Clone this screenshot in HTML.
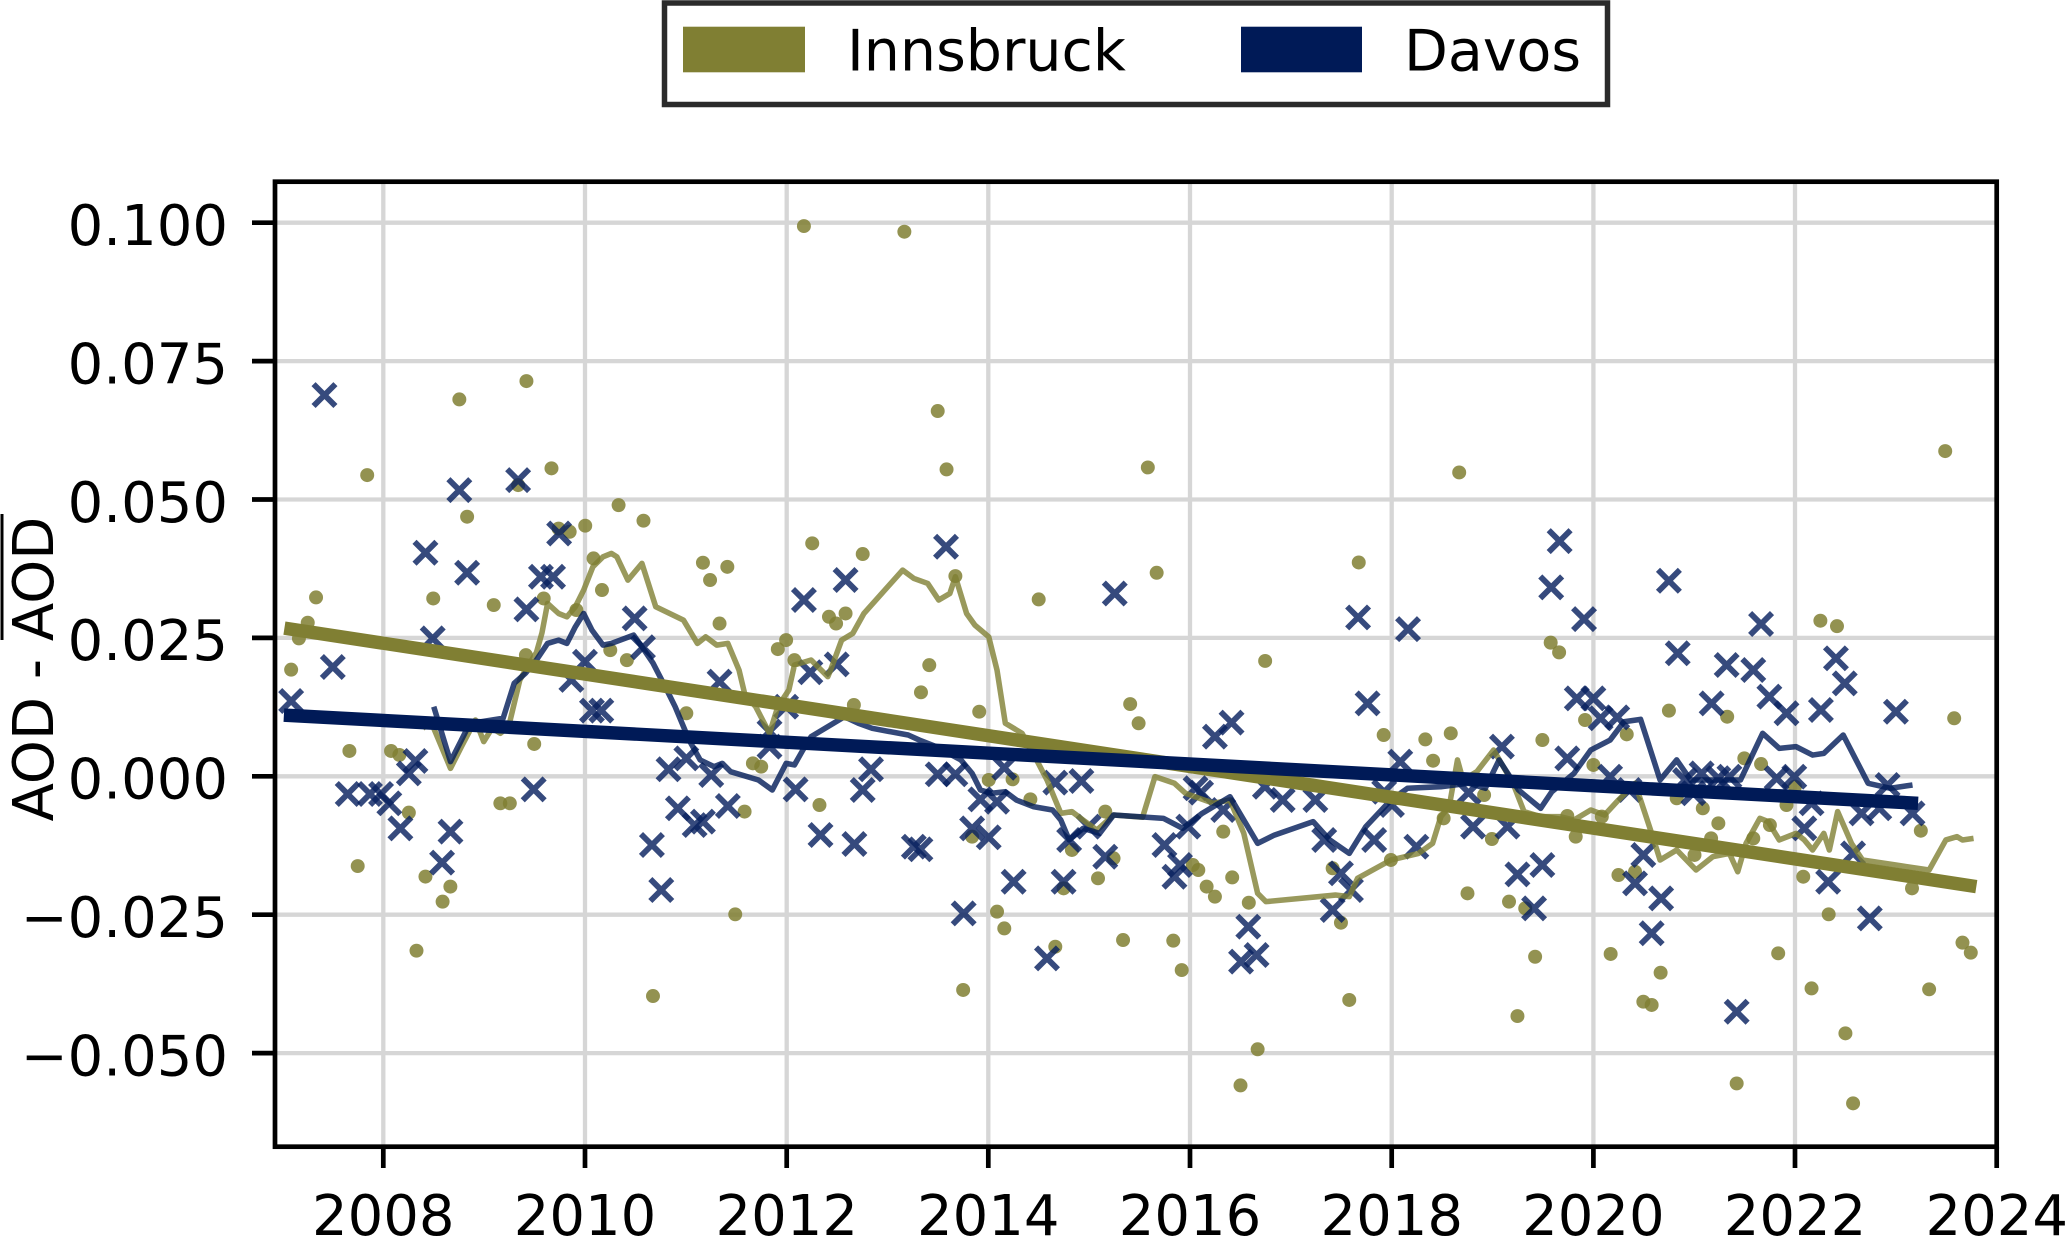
<!DOCTYPE html>
<html><head><meta charset="utf-8"><style>
html,body{margin:0;padding:0;background:#fff}
svg{display:block}
text{font-family:"DejaVu Sans","Liberation Sans",sans-serif;fill:#000}
</style></head><body>
<svg width="2067" height="1237" viewBox="0 0 2067 1237" xmlns="http://www.w3.org/2000/svg">
<defs>
<clipPath id="ax"><rect x="275" y="181.7" width="1721.7" height="965"/></clipPath>
<path id="xm" d="M-8.3-8.3L8.3 8.3M-8.3 8.3L8.3-8.3"/>
</defs>
<rect width="2067" height="1237" fill="#fff"/>

<!-- legend -->
<rect x="664.5" y="3" width="943" height="101.5" fill="#fff" stroke="#2b2b2b" stroke-width="5.5"/>
<rect x="683" y="26.7" width="122" height="45.6" fill="#807f33"/>
<text x="847" y="70.7" font-size="57">Innsbruck</text>
<rect x="1241" y="26.7" width="121" height="45.6" fill="#001a57"/>
<text x="1404" y="70.7" font-size="57">Davos</text>

<!-- grid -->
<g stroke="#d6d6d6" stroke-width="4.3">
<line x1="383.3" y1="181.7" x2="383.3" y2="1146.7"/>
<line x1="585" y1="181.7" x2="585" y2="1146.7"/>
<line x1="786.7" y1="181.7" x2="786.7" y2="1146.7"/>
<line x1="988.3" y1="181.7" x2="988.3" y2="1146.7"/>
<line x1="1190" y1="181.7" x2="1190" y2="1146.7"/>
<line x1="1391.7" y1="181.7" x2="1391.7" y2="1146.7"/>
<line x1="1593.4" y1="181.7" x2="1593.4" y2="1146.7"/>
<line x1="1795" y1="181.7" x2="1795" y2="1146.7"/>
<line x1="275" y1="222.7" x2="1996.7" y2="222.7"/>
<line x1="275" y1="361.1" x2="1996.7" y2="361.1"/>
<line x1="275" y1="499.5" x2="1996.7" y2="499.5"/>
<line x1="275" y1="637.9" x2="1996.7" y2="637.9"/>
<line x1="275" y1="776.3" x2="1996.7" y2="776.3"/>
<line x1="275" y1="914.7" x2="1996.7" y2="914.7"/>
<line x1="275" y1="1053.1" x2="1996.7" y2="1053.1"/>
</g>

<g clip-path="url(#ax)">
<g transform="matrix(1.3182 0 0 1.3182 1 0)">
<!-- Innsbruck dots -->
<g fill="#807f33" fill-opacity="0.85">
<circle cx="609.1" cy="171.5" r="5.3"/><circle cx="685.3" cy="175.8" r="5.3"/><circle cx="398.6" cy="289.1" r="5.3"/><circle cx="347.7" cy="303" r="5.3"/><circle cx="710.6" cy="311.8" r="5.3"/><circle cx="717.3" cy="356.1" r="5.3"/><circle cx="277.8" cy="360.4" r="5.3"/><circle cx="417.6" cy="355.3" r="5.3"/><circle cx="392.3" cy="368" r="5.3"/><circle cx="353.6" cy="392" r="5.3"/><circle cx="468.5" cy="383.2" r="5.3"/><circle cx="487.4" cy="395" r="5.3"/><circle cx="443.2" cy="398.8" r="5.3"/><circle cx="431.4" cy="403.4" r="5.3"/><circle cx="423" cy="401" r="5.3"/><circle cx="615.4" cy="412.2" r="5.3"/><circle cx="653.7" cy="420.3" r="5.3"/><circle cx="449.5" cy="423.6" r="5.3"/><circle cx="532.5" cy="426.9" r="5.3"/><circle cx="551" cy="430" r="5.3"/><circle cx="537.9" cy="440" r="5.3"/><circle cx="455.9" cy="447.6" r="5.3"/><circle cx="724" cy="437" r="5.3"/><circle cx="239" cy="453.2" r="5.3"/><circle cx="327.9" cy="454" r="5.3"/><circle cx="373.8" cy="459" r="5.3"/><circle cx="411.7" cy="454" r="5.3"/><circle cx="787.2" cy="454.7" r="5.3"/><circle cx="628.1" cy="467.9" r="5.3"/><circle cx="640.7" cy="465.4" r="5.3"/><circle cx="633.5" cy="473" r="5.3"/><circle cx="545.1" cy="473" r="5.3"/><circle cx="436.5" cy="462.8" r="5.3"/><circle cx="232.7" cy="472.4" r="5.3"/><circle cx="226" cy="484.3" r="5.3"/><circle cx="595.6" cy="485.6" r="5.3"/><circle cx="589.3" cy="492.4" r="5.3"/><circle cx="398.2" cy="497" r="5.3"/><circle cx="462.2" cy="493.2" r="5.3"/><circle cx="474.8" cy="500.8" r="5.3"/><circle cx="601.9" cy="500.8" r="5.3"/><circle cx="704.2" cy="504.6" r="5.3"/><circle cx="220.1" cy="508" r="5.3"/>
<circle cx="264.3" cy="569.7" r="5.3"/><circle cx="295.9" cy="569.7" r="5.3"/><circle cx="302.2" cy="572.7" r="5.3"/><circle cx="309.4" cy="616.5" r="5.3"/><circle cx="270.6" cy="657" r="5.3"/><circle cx="322" cy="665" r="5.3"/><circle cx="340.9" cy="672.6" r="5.3"/><circle cx="335" cy="684" r="5.3"/><circle cx="315.2" cy="721.2" r="5.3"/><circle cx="404.5" cy="564.4" r="5.3"/><circle cx="378.8" cy="609.4" r="5.3"/><circle cx="386" cy="609.4" r="5.3"/><circle cx="519.9" cy="541.1" r="5.3"/><circle cx="570.4" cy="579.1" r="5.3"/><circle cx="576.7" cy="581.6" r="5.3"/><circle cx="564.1" cy="615.7" r="5.3"/><circle cx="557" cy="693.6" r="5.3"/><circle cx="620.9" cy="610.7" r="5.3"/><circle cx="647" cy="534.8" r="5.3"/><circle cx="697.9" cy="525.2" r="5.3"/><circle cx="742.1" cy="539.9" r="5.3"/><circle cx="767.4" cy="591.2" r="5.3"/><circle cx="780.9" cy="606.4" r="5.3"/><circle cx="749.3" cy="591.7" r="5.3"/><circle cx="736.7" cy="634.7" r="5.3"/><circle cx="755.6" cy="691.6" r="5.3"/><circle cx="761.1" cy="704.3" r="5.3"/><circle cx="729.9" cy="751" r="5.3"/><circle cx="799.8" cy="718.2" r="5.3"/><circle cx="806.1" cy="673.9" r="5.3"/><circle cx="812.4" cy="644.8" r="5.3"/><circle cx="837.7" cy="615.7" r="5.3"/><circle cx="844" cy="651.1" r="5.3"/><circle cx="832.2" cy="666.3" r="5.3"/><circle cx="851.2" cy="713.1" r="5.3"/><circle cx="856.6" cy="534.1" r="5.3"/><circle cx="863" cy="548.7" r="5.3"/><circle cx="494.6" cy="755.6" r="5.3"/>
<circle cx="959" cy="501.4" r="5.3"/><circle cx="1048.9" cy="557.6" r="5.3"/><circle cx="1080.5" cy="560.9" r="5.3"/><circle cx="1099.8" cy="556.3" r="5.3"/><circle cx="1086.4" cy="577.1" r="5.3"/><circle cx="1169.3" cy="561.4" r="5.3"/><circle cx="1175.6" cy="487.5" r="5.3"/><circle cx="1182" cy="494.9" r="5.3"/><circle cx="1201.7" cy="546.2" r="5.3"/><circle cx="1208" cy="580.3" r="5.3"/><circle cx="1233.3" cy="557.1" r="5.3"/><circle cx="1265.3" cy="539.1" r="5.3"/><circle cx="1309.5" cy="543.7" r="5.3"/><circle cx="1322.5" cy="575.3" r="5.3"/><circle cx="1335.2" cy="579.6" r="5.3"/><circle cx="1481.7" cy="544.9" r="5.3"/><circle cx="927.2" cy="630.9" r="5.3"/><circle cx="904.1" cy="656.2" r="5.3"/><circle cx="908.3" cy="660" r="5.3"/><circle cx="914.6" cy="672.6" r="5.3"/><circle cx="920.9" cy="680.2" r="5.3"/><circle cx="934" cy="665.6" r="5.3"/><circle cx="946.6" cy="684.8" r="5.3"/><circle cx="889.3" cy="713.6" r="5.3"/><circle cx="895.7" cy="735.9" r="5.3"/><circle cx="953.3" cy="796" r="5.3"/><circle cx="940.3" cy="823.4" r="5.3"/><circle cx="1010.2" cy="658.7" r="5.3"/><circle cx="1016.5" cy="700" r="5.3"/><circle cx="1022.8" cy="758.6" r="5.3"/><circle cx="1054.4" cy="652.4" r="5.3"/><circle cx="1094.4" cy="620.8" r="5.3"/><circle cx="1125.1" cy="603.1" r="5.3"/><circle cx="1131" cy="636.5" r="5.3"/><circle cx="1112.5" cy="677.7" r="5.3"/><circle cx="1144" cy="684" r="5.3"/><circle cx="1156.3" cy="689.1" r="5.3"/><circle cx="1163.8" cy="725.8" r="5.3"/><circle cx="1150.4" cy="770.8" r="5.3"/><circle cx="1194.6" cy="634.7" r="5.3"/><circle cx="1188.2" cy="619" r="5.3"/><circle cx="1214.4" cy="619.5" r="5.3"/><circle cx="1227" cy="663.8" r="5.3"/><circle cx="1239.6" cy="661.3" r="5.3"/><circle cx="1221.1" cy="723.7" r="5.3"/><circle cx="1259" cy="737.9" r="5.3"/><circle cx="1245.9" cy="759.9" r="5.3"/><circle cx="1252.2" cy="762.4" r="5.3"/><circle cx="1271.2" cy="605.6" r="5.3"/><circle cx="1291" cy="613.2" r="5.3"/><circle cx="1302.8" cy="624.6" r="5.3"/><circle cx="1284.7" cy="648.6" r="5.3"/><circle cx="1297.3" cy="636" r="5.3"/><circle cx="1329.3" cy="636" r="5.3"/><circle cx="1341.9" cy="625.9" r="5.3"/><circle cx="1354.5" cy="610.7" r="5.3"/><circle cx="1360.9" cy="596.8" r="5.3"/><circle cx="1348.2" cy="723.2" r="5.3"/><circle cx="1316.7" cy="821.9" r="5.3"/><circle cx="1373.5" cy="749.8" r="5.3"/><circle cx="1367.2" cy="665.1" r="5.3"/><circle cx="1386.5" cy="693.6" r="5.3"/><circle cx="1399.2" cy="783.9" r="5.3"/><circle cx="1405" cy="837" r="5.3"/><circle cx="1449.7" cy="673.9" r="5.3"/><circle cx="1456.4" cy="630.2" r="5.3"/><circle cx="1462.7" cy="750.5" r="5.3"/><circle cx="1488" cy="715.1" r="5.3"/><circle cx="1494.3" cy="722.7" r="5.3"/>
<circle cx="870" cy="354.6" r="5.3"/><circle cx="1106.2" cy="358.4" r="5.3"/><circle cx="1474.9" cy="342.2" r="5.3"/><circle cx="876.7" cy="434.5" r="5.3"/><circle cx="1030" cy="426.7" r="5.3"/><circle cx="1380.2" cy="470.9" r="5.3"/><circle cx="1392.8" cy="475" r="5.3"/>
</g>

<!-- Davos X markers -->
<g stroke="#0a2260" stroke-opacity="0.82" stroke-width="4.4" fill="none">
<use href="#xm" x="245.4" y="299.7"/><use href="#xm" x="347.7" y="371.8"/><use href="#xm" x="392.3" y="364.2"/><use href="#xm" x="423.4" y="404.7"/><use href="#xm" x="322" y="419.3"/><use href="#xm" x="353.6" y="434.5"/><use href="#xm" x="409.6" y="437.5"/><use href="#xm" x="418.8" y="437.5"/><use href="#xm" x="716.9" y="414.8"/><use href="#xm" x="398.6" y="462.3"/><use href="#xm" x="640.7" y="440"/><use href="#xm" x="609.1" y="455.2"/><use href="#xm" x="480.7" y="469.1"/><use href="#xm" x="844.9" y="450.2"/><use href="#xm" x="327.5" y="484.3"/><use href="#xm" x="251.7" y="506"/><use href="#xm" x="487" y="491"/><use href="#xm" x="443" y="502"/><use href="#xm" x="614" y="510"/><use href="#xm" x="634" y="504"/>
<use href="#xm" x="220.1" y="531.8"/><use href="#xm" x="263" y="602.3"/><use href="#xm" x="279.9" y="602.3"/><use href="#xm" x="288.3" y="602.3"/><use href="#xm" x="294.6" y="609.4"/><use href="#xm" x="303" y="628.4"/><use href="#xm" x="309.4" y="586.7"/><use href="#xm" x="314.4" y="577.3"/><use href="#xm" x="341" y="630.9"/><use href="#xm" x="334.6" y="654.4"/><use href="#xm" x="404.1" y="598.8"/><use href="#xm" x="432.7" y="515.8"/><use href="#xm" x="448.3" y="539.1"/><use href="#xm" x="455.4" y="539.1"/><use href="#xm" x="493.8" y="641"/><use href="#xm" x="500.9" y="675.2"/><use href="#xm" x="506.4" y="583.6"/><use href="#xm" x="519.9" y="575.3"/><use href="#xm" x="513.5" y="613.2"/><use href="#xm" x="538.8" y="587.9"/><use href="#xm" x="526.2" y="625.9"/><use href="#xm" x="532.5" y="623.3"/><use href="#xm" x="551.4" y="611.4"/><use href="#xm" x="545.1" y="517.1"/><use href="#xm" x="583" y="555"/><use href="#xm" x="583" y="566.4"/><use href="#xm" x="595.6" y="536.1"/><use href="#xm" x="602.8" y="598.8"/><use href="#xm" x="621.7" y="633.4"/><use href="#xm" x="647.4" y="640.3"/><use href="#xm" x="660" y="583.6"/><use href="#xm" x="653.7" y="599.3"/><use href="#xm" x="692.5" y="642.3"/><use href="#xm" x="697.5" y="644.3"/><use href="#xm" x="710.6" y="587.4"/><use href="#xm" x="724" y="587.4"/><use href="#xm" x="736.7" y="628.4"/><use href="#xm" x="749.3" y="635.2"/><use href="#xm" x="743" y="606.4"/><use href="#xm" x="755.6" y="608.2"/><use href="#xm" x="761.1" y="582.4"/><use href="#xm" x="730.3" y="692.9"/><use href="#xm" x="768.2" y="668.9"/><use href="#xm" x="806.1" y="668.9"/><use href="#xm" x="799.8" y="593.7"/><use href="#xm" x="819.6" y="592.5"/><use href="#xm" x="810.3" y="637.2"/><use href="#xm" x="793.5" y="727"/><use href="#xm" x="837.7" y="649.9"/><use href="#xm" x="825.1" y="627.1"/>
<use href="#xm" x="1036.7" y="533.6"/><use href="#xm" x="920.9" y="558.8"/><use href="#xm" x="933.5" y="548.2"/><use href="#xm" x="910.4" y="601.3"/><use href="#xm" x="906.2" y="598"/><use href="#xm" x="927.2" y="614.5"/><use href="#xm" x="900.7" y="627.1"/><use href="#xm" x="882.6" y="641"/><use href="#xm" x="894.4" y="656.2"/><use href="#xm" x="890.2" y="665.1"/><use href="#xm" x="946.2" y="703"/><use href="#xm" x="940.7" y="729.5"/><use href="#xm" x="952.5" y="724.5"/><use href="#xm" x="958.8" y="596.8"/><use href="#xm" x="972.3" y="606.9"/><use href="#xm" x="997.1" y="606.9"/><use href="#xm" x="1003.8" y="637.2"/><use href="#xm" x="1016.5" y="662.5"/><use href="#xm" x="1010.2" y="690.3"/><use href="#xm" x="1024.1" y="675.2"/><use href="#xm" x="1041.7" y="637.2"/><use href="#xm" x="1049.3" y="600.6"/><use href="#xm" x="1055.2" y="610.7"/><use href="#xm" x="1061.5" y="577.8"/><use href="#xm" x="1073.7" y="642.3"/><use href="#xm" x="1116.7" y="627.1"/><use href="#xm" x="1113.3" y="601.3"/><use href="#xm" x="1138.6" y="566.4"/><use href="#xm" x="1142.8" y="627.1"/><use href="#xm" x="1150.4" y="663.3"/><use href="#xm" x="1169.3" y="656.2"/><use href="#xm" x="1163" y="689.1"/><use href="#xm" x="1188.2" y="575.3"/><use href="#xm" x="1195.4" y="529.8"/><use href="#xm" x="1208" y="529.8"/><use href="#xm" x="1213.5" y="544.9"/><use href="#xm" x="1226.1" y="544.2"/><use href="#xm" x="1220.7" y="589.2"/><use href="#xm" x="1235.4" y="599.3"/><use href="#xm" x="1245.9" y="648.6"/><use href="#xm" x="1239.6" y="670.1"/><use href="#xm" x="1259.4" y="681.5"/><use href="#xm" x="1252.2" y="708"/><use href="#xm" x="1272" y="495.6"/><use href="#xm" x="1277.5" y="591.7"/><use href="#xm" x="1283.8" y="601.8"/><use href="#xm" x="1290.1" y="586.7"/><use href="#xm" x="1297.7" y="533.6"/><use href="#xm" x="1302.8" y="590.4"/><use href="#xm" x="1309.1" y="504.5"/><use href="#xm" x="1311.2" y="589.2"/><use href="#xm" x="1329.3" y="508.3"/><use href="#xm" x="1341.5" y="528.5"/><use href="#xm" x="1354.5" y="541.1"/><use href="#xm" x="1347" y="590.4"/><use href="#xm" x="1360.4" y="589.2"/><use href="#xm" x="1368" y="628.4"/><use href="#xm" x="1373.5" y="609.4"/><use href="#xm" x="1380.6" y="538.6"/><use href="#xm" x="1392" y="499.4"/><use href="#xm" x="1398.7" y="518.4"/><use href="#xm" x="1386.1" y="668.9"/><use href="#xm" x="1405" y="647.4"/><use href="#xm" x="1411.4" y="617"/><use href="#xm" x="1424.9" y="613.2"/><use href="#xm" x="1431.2" y="595.5"/><use href="#xm" x="1450.1" y="617"/><use href="#xm" x="1437.5" y="539.9"/><use href="#xm" x="1417.7" y="696.7"/><use href="#xm" x="1316.7" y="767.5"/>
<use href="#xm" x="1182.4" y="410.5"/><use href="#xm" x="1176" y="445.6"/><use href="#xm" x="1200.9" y="469.7"/><use href="#xm" x="1265.3" y="440.6"/><use href="#xm" x="1029.5" y="468.4"/><use href="#xm" x="1067.4" y="477.3"/><use href="#xm" x="1335.2" y="473.4"/>
</g>

<!-- running means -->
<polyline fill="none" stroke="#807f33" stroke-opacity="0.8" stroke-width="4.2" stroke-linejoin="round" points="319.9,552.5 326.2,547.5 341,582.9 349.3,566.4 359.9,546.2 366.2,562.6 372.5,552.5 378.8,556.3 385.1,551.3 393.6,515.8 399.9,505 406.2,495 410.4,480 414.6,457.8 423,465.4 429.3,467.9 435.7,460.3 442,447.7 449,430 456.7,422.4 463,419.8 467.2,422.4 475.6,440.1 486.2,427.4 496.7,460.3 517.7,470.4 528.3,488.1 534.6,483.1 543,489.4 551.4,488.1 559.9,508.4 564.1,526 572.5,536.1 583,556.3 589.3,536.1 597.7,523.4 601.9,504.5 614.6,500.7 627.2,513.3 629.3,508.4 637.7,485.6 646.2,480.5 654.6,465.4 684,432.5 692.5,438.8 703,442.6 711.4,455.2 719.8,450.2 724,437.5 732.5,465.4 738.8,474.2 749.3,483.1 755.6,508.4 761.9,548.7 774.6,556.3 783,571.5 793.5,591.7 804,617 812.4,615.7 820.9,622.1 831.4,629.7 844,618.3 866,620 875.4,589.2 890.2,594.2 898.6,601.8 919.7,609.4 932.3,606.9 942.8,632.2 953.3,677.7 959.6,684 1012.3,679 1022.8,680.2 1029.1,666.3 1054.4,652.4 1075.4,647.4 1086,639.8 1092.3,619.5 1098.6,612 1104.9,576.5 1109.1,591.7 1119.6,585.4 1132.3,569 1147,594.2 1155.4,615.7 1168,619.5 1182.8,619.5 1193.3,622.1 1206,614.5 1216.5,618.3 1227,606.9 1239.6,594.2 1252.2,632.2 1258.6,652.4 1271.2,644.8 1285.9,660 1298.6,649.9 1311.2,647.4 1317.5,661.3 1323.8,639.8 1334.3,620.8 1340.6,623.3 1349,637.2 1361.7,632.2 1368,637.2 1374.3,644.8 1382.8,632.2 1387,644.8 1393.3,615.7 1403.8,639.8 1412.2,652.4 1437.5,656.2 1462.7,660 1475.4,637.2 1483.8,634.7 1488,637.2 1496.4,636"/>
<polyline fill="none" stroke="#001a57" stroke-opacity="0.8" stroke-width="4.2" stroke-linejoin="round" points="328.3,536.1 341,577.8 349.3,561.4 355.7,548.7 364.1,547.5 372.5,546.2 380.9,544.9 389.3,518.4 397.8,510.8 406.2,500.7 414.6,488.1 423,485.6 429.3,488.1 435.7,475.5 442,465.4 448.3,478 456.7,489.4 463,488.1 479.9,481.8 486.2,490.6 494.6,503 505.1,523.4 511.4,536.1 522,561.4 530.4,576.5 540.9,581.6 547.2,579.1 553.5,585.4 574.6,591.7 585.1,599.3 595.6,579.1 601.9,580.3 608.3,569 614.6,558.8 639.8,543.7 650.4,548.7 660.9,552.5 688.2,557.6 696.7,561.4 709.3,566.4 728.2,576.5 736.7,586.7 743,599.3 751.4,601.8 761.9,600.6 770.3,606.9 783,611.9 797.7,614.5 804,622.1 810.3,637.2 820.9,628.4 833.5,632.2 844,618.3 881.8,620.8 896.5,628.4 911.2,617 932.3,604.4 953.3,639.8 966,633.5 995.4,623.3 1008,637.2 1022.8,647.4 1035.4,627.1 1054.4,606.9 1067,598 1092.3,596.8 1113.3,594.2 1126,598 1136.5,576.5 1151.2,599.3 1168,613.2 1176.5,600.6 1193.3,586.7 1206,569 1220.7,561.4 1231.2,547.5 1243.8,545.7 1258.6,591.7 1271.2,576.5 1281.7,591.7 1298.6,591.7 1319.6,591.7 1336.4,556.3 1349,567.7 1361.7,566.4 1374.3,572.8 1382.8,571.5 1397.5,557.6 1416.4,594.2 1433.3,598 1450.1,595.5"/>

<!-- trend lines -->
<line x1="215" y1="476.5" x2="1498.5" y2="672.6" stroke="#807f33" stroke-width="10.2"/>
<line x1="214.6" y1="542.5" x2="1454.3" y2="609.4" stroke="#001a57" stroke-width="10.2"/>
</g>
</g>

<!-- axes frame -->
<rect x="275" y="181.7" width="1721.7" height="965" fill="none" stroke="#000" stroke-width="4.7"/>

<!-- ticks -->
<g stroke="#000" stroke-width="4.7">
<line x1="252" y1="222.7" x2="275" y2="222.7"/>
<line x1="252" y1="361.1" x2="275" y2="361.1"/>
<line x1="252" y1="499.5" x2="275" y2="499.5"/>
<line x1="252" y1="637.9" x2="275" y2="637.9"/>
<line x1="252" y1="776.3" x2="275" y2="776.3"/>
<line x1="252" y1="914.7" x2="275" y2="914.7"/>
<line x1="252" y1="1053.1" x2="275" y2="1053.1"/>
<line x1="383.3" y1="1146.7" x2="383.3" y2="1168"/>
<line x1="585" y1="1146.7" x2="585" y2="1168"/>
<line x1="786.7" y1="1146.7" x2="786.7" y2="1168"/>
<line x1="988.3" y1="1146.7" x2="988.3" y2="1168"/>
<line x1="1190" y1="1146.7" x2="1190" y2="1168"/>
<line x1="1391.7" y1="1146.7" x2="1391.7" y2="1168"/>
<line x1="1593.4" y1="1146.7" x2="1593.4" y2="1168"/>
<line x1="1795" y1="1146.7" x2="1795" y2="1168"/>
<line x1="1996.7" y1="1146.7" x2="1996.7" y2="1168"/>
</g>

<!-- y tick labels -->
<g font-size="56" text-anchor="end">
<text x="228" y="245">0.100</text>
<text x="228" y="383.4">0.075</text>
<text x="228" y="521.8">0.050</text>
<text x="228" y="660.2">0.025</text>
<text x="228" y="798.6">0.000</text>
<text x="228" y="937">−0.025</text>
<text x="228" y="1075.4">−0.050</text>
</g>

<!-- x tick labels -->
<g font-size="56" text-anchor="middle">
<text x="383.3" y="1235">2008</text>
<text x="585" y="1235">2010</text>
<text x="786.7" y="1235">2012</text>
<text x="988.3" y="1235">2014</text>
<text x="1190" y="1235">2016</text>
<text x="1391.7" y="1235">2018</text>
<text x="1593.4" y="1235">2020</text>
<text x="1795" y="1235">2022</text>
<text x="1996.7" y="1235">2024</text>
</g>

<!-- y axis label -->
<text transform="translate(53,669) rotate(-90)" font-size="56" text-anchor="middle">AOD - AOD</text>
<line x1="2" y1="514" x2="2" y2="640" stroke="#000" stroke-width="3"/>
</svg>
</body></html>
